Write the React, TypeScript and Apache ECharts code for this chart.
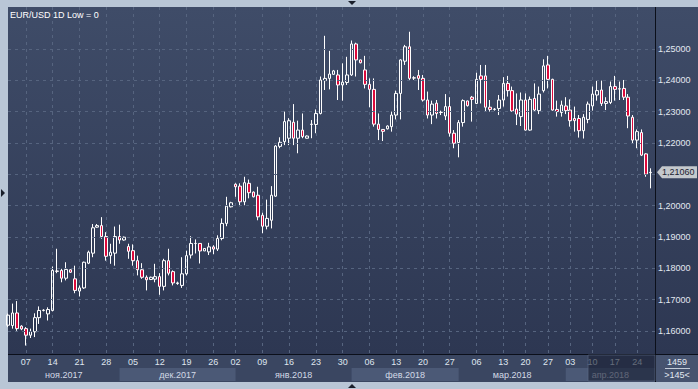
import React, { useEffect, useRef } from 'react';
import * as echarts from 'echarts';

// ---- categories (trading days, incl. Sunday sessions) ----
const monthDays: [string, number[]][] = [
  ['2017-11', [2, 3, 5, 6, 7, 8, 9, 10, 12, 13, 14, 15, 16, 17, 19, 20, 21, 22, 23, 24, 26, 27, 28, 29, 30]],
  ['2017-12', [1, 3, 4, 5, 6, 7, 8, 10, 11, 12, 13, 14, 15, 17, 18, 19, 20, 21, 22, 24, 25, 26, 27, 28, 29, 31]],
  ['2018-01', [2, 3, 4, 5, 7, 8, 9, 10, 11, 12, 14, 15, 16, 17, 18, 19, 21, 22, 23, 24, 25, 26, 28, 29, 30, 31]],
  ['2018-02', [1, 2, 4, 5, 6, 7, 8, 9, 11, 12, 13, 14, 15, 16, 18, 19, 20, 21, 22, 23, 25, 26, 27, 28]],
  ['2018-03', [1, 2, 4, 5, 6, 7, 8, 9, 11, 12, 13, 14, 15, 16, 19, 20, 21, 22, 23, 26, 27, 28, 29, 30]],
  ['2018-04', [2, 3, 4, 5, 6, 9, 10, 11, 12, 13, 16, 17, 18, 19, 20, 23, 24, 25, 26, 27]],
];
const dates: string[] = monthDays.flatMap(([m, ds]) => ds.map((d) => `${m}-${String(d).padStart(2, '0')}`));

const weekLabelDates = [
  '2017-11-07', '2017-11-14', '2017-11-21', '2017-11-28', '2017-12-05', '2017-12-12', '2017-12-19', '2017-12-26',
  '2018-01-02', '2018-01-09', '2018-01-16', '2018-01-23', '2018-01-30', '2018-02-06', '2018-02-13', '2018-02-20',
  '2018-02-27', '2018-03-06', '2018-03-13', '2018-03-20', '2018-03-27', '2018-04-03', '2018-04-10', '2018-04-17',
  '2018-04-24',
];
const monthKeys = ['2017-11', '2017-12', '2018-01', '2018-02', '2018-03', '2018-04'];
const monthNames = ['ноя.2017', 'дек.2017', 'янв.2018', 'фев.2018', 'мар.2018', 'апр.2018'];
const yTicks = [1.16, 1.17, 1.18, 1.19, 1.2, 1.21, 1.22, 1.23, 1.24, 1.25];

// ---- OHLC ----
const opens = [
  1.1618, 1.1617, 1.1657, 1.1615, 1.1607, 1.1586, 1.1597, 1.1642, 1.1665, 1.1654,
  1.1665, 1.1791, 1.1793, 1.1768, 1.1795, 1.1766, 1.1727, 1.1737, 1.1816, 1.1848,
  1.1931, 1.1936, 1.1901, 1.1840, 1.1848, 1.1901, 1.1890, 1.1869, 1.1856, 1.1824,
  1.1795, 1.1771, 1.1764, 1.1765, 1.1773, 1.1742, 1.1824, 1.1789, 1.1751, 1.1745,
  1.1782, 1.1842, 1.1879, 1.1879, 1.1855, 1.1852, 1.1868, 1.1861, 1.1895, 1.1943,
  1.1996, 1.2068, 1.2062, 1.2012, 1.2071, 1.2043, 1.2033, 1.1969, 1.1934, 1.1953,
  1.2030, 1.2189, 1.2204, 1.2215, 1.2266, 1.2215, 1.2241, 1.2215, 1.2259, 1.2259,
  1.2294, 1.2399, 1.2406, 1.2419, 1.2417, 1.2385, 1.2393, 1.2417, 1.2516, 1.2465,
  1.2433, 1.2387, 1.2371, 1.2260, 1.2243, 1.2245, 1.2252, 1.2289, 1.2358, 1.2461,
  1.2507, 1.2407, 1.2415, 1.2406, 1.2337, 1.2289, 1.2327, 1.2297, 1.2286, 1.2316,
  1.2231, 1.2201, 1.2265, 1.2334, 1.2346, 1.2326, 1.2414, 1.2414, 1.2314, 1.2307,
  1.2310, 1.2337, 1.2390, 1.2367, 1.2308, 1.2284, 1.2337, 1.2241, 1.2342, 1.2303,
  1.2367, 1.2449, 1.2403, 1.2307, 1.2297, 1.2318, 1.2305, 1.2278, 1.2278, 1.2239,
  1.2275, 1.2318, 1.2353, 1.2369, 1.2326, 1.2329, 1.2380, 1.2373, 1.2374, 1.2346,
  1.2282, 1.2209, 1.2233, 1.2165, 1.2105,
];
const closes = [
  1.1650, 1.1657, 1.1607, 1.1606, 1.1586, 1.1598, 1.1642, 1.1665, 1.1666, 1.1668,
  1.1793, 1.1790, 1.1768, 1.1796, 1.1787, 1.1729, 1.1737, 1.1819, 1.1851, 1.1929,
  1.1936, 1.1901, 1.1838, 1.1851, 1.1901, 1.1890, 1.1899, 1.1854, 1.1824, 1.1795,
  1.1771, 1.1763, 1.1771, 1.1773, 1.1742, 1.1824, 1.1784, 1.1753, 1.1753, 1.1782,
  1.1840, 1.1879, 1.1879, 1.1855, 1.1863, 1.1868, 1.1861, 1.1895, 1.1943, 1.1998,
  1.2009, 1.2060, 1.2012, 1.2073, 1.2041, 1.2028, 1.1964, 1.1934, 1.1959, 1.2033,
  1.2190, 1.2202, 1.2268, 1.2271, 1.2215, 1.2241, 1.2220, 1.2222, 1.2260, 1.2294,
  1.2401, 1.2406, 1.2420, 1.2430, 1.2385, 1.2394, 1.2417, 1.2516, 1.2465, 1.2456,
  1.2387, 1.2371, 1.2260, 1.2243, 1.2237, 1.2254, 1.2289, 1.2358, 1.2465, 1.2507,
  1.2406, 1.2408, 1.2406, 1.2337, 1.2289, 1.2324, 1.2294, 1.2298, 1.2316, 1.2231,
  1.2199, 1.2265, 1.2335, 1.2319, 1.2339, 1.2403, 1.2403, 1.2314, 1.2307, 1.2308,
  1.2337, 1.2390, 1.2367, 1.2302, 1.2292, 1.2337, 1.2241, 1.2339, 1.2305, 1.2356,
  1.2446, 1.2403, 1.2305, 1.2300, 1.2321, 1.2303, 1.2271, 1.2271, 1.2239, 1.2282,
  1.2324, 1.2356, 1.2367, 1.2326, 1.2332, 1.2380, 1.2371, 1.2372, 1.2346, 1.2286,
  1.2209, 1.2236, 1.2161, 1.2100, 1.2106,
];
const lows = [
  1.1612, 1.1607, 1.1600, 1.1602, 1.1553, 1.1577, 1.1580, 1.1622, 1.1662, 1.1633,
  1.1662, 1.1784, 1.1755, 1.1761, 1.1785, 1.1720, 1.1710, 1.1734, 1.1813, 1.1835,
  1.1929, 1.1894, 1.1824, 1.1814, 1.1808, 1.1878, 1.1888, 1.1830, 1.1808, 1.1777,
  1.1766, 1.1729, 1.1762, 1.1755, 1.1715, 1.1729, 1.1777, 1.1745, 1.1747, 1.1737,
  1.1777, 1.1831, 1.1847, 1.1815, 1.1855, 1.1842, 1.1845, 1.1855, 1.1889, 1.1934,
  1.1994, 1.2028, 1.1998, 1.2001, 1.2023, 1.2026, 1.1953, 1.1912, 1.1924, 1.1927,
  1.2028, 1.2183, 1.2193, 1.2193, 1.2193, 1.2167, 1.2215, 1.2214, 1.2215, 1.2231,
  1.2291, 1.2369, 1.2371, 1.2418, 1.2337, 1.2335, 1.2385, 1.2414, 1.2412, 1.2454,
  1.2374, 1.2314, 1.2252, 1.2209, 1.2206, 1.2243, 1.2236, 1.2275, 1.2275, 1.2449,
  1.2401, 1.2401, 1.2369, 1.2332, 1.2278, 1.2260, 1.2278, 1.2289, 1.2273, 1.2220,
  1.2183, 1.2154, 1.2252, 1.2316, 1.2268, 1.2324, 1.2326, 1.2300, 1.2300, 1.2303,
  1.2289, 1.2316, 1.2348, 1.2300, 1.2257, 1.2254, 1.2239, 1.2239, 1.2300, 1.2292,
  1.2361, 1.2374, 1.2303, 1.2284, 1.2284, 1.2292, 1.2252, 1.2236, 1.2217, 1.2214,
  1.2263, 1.2303, 1.2335, 1.2318, 1.2305, 1.2324, 1.2335, 1.2337, 1.2337, 1.2247,
  1.2197, 1.2183, 1.2158, 1.2092, 1.2055,
];
const highs = [
  1.1655, 1.1687, 1.1695, 1.1618, 1.1612, 1.1607, 1.1656, 1.1678, 1.1669, 1.1675,
  1.1805, 1.1862, 1.1798, 1.1819, 1.1797, 1.1808, 1.1745, 1.1821, 1.1856, 1.1941,
  1.1941, 1.1963, 1.1915, 1.1878, 1.1933, 1.1939, 1.1901, 1.1878, 1.1876, 1.1840,
  1.1816, 1.1777, 1.1773, 1.1814, 1.1784, 1.1830, 1.1862, 1.1793, 1.1757, 1.1835,
  1.1856, 1.1902, 1.1892, 1.1879, 1.1863, 1.1881, 1.1873, 1.1905, 1.1959, 1.2028,
  1.2012, 1.2071, 1.2071, 1.2092, 1.2083, 1.2045, 1.2060, 1.1977, 1.2019, 1.2062,
  1.2193, 1.2218, 1.2300, 1.2279, 1.2324, 1.2271, 1.2294, 1.2224, 1.2273, 1.2307,
  1.2412, 1.2542, 1.2494, 1.2433, 1.2433, 1.2454, 1.2475, 1.2527, 1.2520, 1.2466,
  1.2478, 1.2406, 1.2406, 1.2294, 1.2244, 1.2256, 1.2300, 1.2367, 1.2467, 1.2513,
  1.2555, 1.2413, 1.2433, 1.2417, 1.2364, 1.2335, 1.2337, 1.2303, 1.2356, 1.2346,
  1.2241, 1.2273, 1.2339, 1.2335, 1.2350, 1.2424, 1.2449, 1.2449, 1.2337, 1.2311,
  1.2353, 1.2410, 1.2414, 1.2380, 1.2358, 1.2361, 1.2358, 1.2348, 1.2390, 1.2380,
  1.2467, 1.2478, 1.2405, 1.2335, 1.2335, 1.2346, 1.2339, 1.2316, 1.2289, 1.2292,
  1.2332, 1.2380, 1.2398, 1.2399, 1.2346, 1.2396, 1.2414, 1.2396, 1.2401, 1.2356,
  1.2289, 1.2243, 1.2243, 1.2167, 1.2119,
];

const FONT = "'Liberation Sans', Arial, sans-serif";

export default function App() {
  const ref = useRef<HTMLDivElement>(null);
  useEffect(() => {
    const el = ref.current!;
    const chart = echarts.init(el, undefined, { renderer: 'svg' });
    const W = 698, H = 389;
    const L = 8, R = 655, T = 7, B = 354;
    const yMin = 1.1526, yMax = 1.2634;
    const last = closes[closes.length - 1];
    const fmt = (v: number) => v.toFixed(5).replace('.', ',');
    // the price tag covers the tick label next to it
    const isTick = (v: number) =>
      yTicks.some((t) => Math.abs(t - v) < 1e-6) && Math.abs(v - last) > 0.003;
    const labelSet = new Set(weekLabelDates);
    const cats = [...dates, ''];
    const ohlc = dates.map((_, i) => [opens[i], closes[i], lows[i], highs[i]]);

    chart.setOption({
      animation: false,
      backgroundColor: 'transparent',
      grid: { left: L, right: W - R, top: T, bottom: H - B, containLabel: false },
      xAxis: {
        type: 'category',
        data: cats,
        boundaryGap: false,
        axisLine: { show: false },
        axisTick: { show: false },
        axisLabel: {
          interval: (_i: number, v: string) => labelSet.has(v),
          formatter: (v: string) => v.slice(8),
          color: '#dfe5ee',
          fontSize: 9,
          fontFamily: FONT,
          margin: 3,
        },
        splitLine: {
          show: true,
          interval: (_i: number, v: string) => labelSet.has(v),
          lineStyle: { color: '#56647f', width: 1, type: [3, 4] },
        },
      },
      yAxis: {
        type: 'value',
        position: 'right',
        min: yMin,
        max: yMax,
        splitNumber: 10,
        minInterval: 0.01,
        maxInterval: 0.01,
        axisLine: { show: false },
        axisTick: { show: false },
        splitLine: { show: false },
        axisLabel: {
          formatter: (v: number) => (isTick(v) ? fmt(v) : ''),
          color: '#e2e8f1',
          fontSize: 9,
          fontFamily: FONT,
          margin: 3,
          showMinLabel: false,
          showMaxLabel: false,
        },
      },
      series: [
        {
          type: 'line',
          data: [],
          z: 1,
          silent: true,
          markLine: {
            silent: true,
            symbol: 'none',
            label: { show: false },
            lineStyle: { color: '#56647f', width: 1, type: [3, 4] },
            data: yTicks.map((v) => ({ yAxis: v })),
          },
        },
        {
          type: 'candlestick',
          data: ohlc,
          z: 2,
          barWidth: 3,
          itemStyle: {
            color: 'rgba(0,0,0,0)',
            color0: '#dc0a3c',
            borderColor: '#ffffff',
            borderColor0: '#ffffff',
            borderColorDoji: '#ffffff',
            borderWidth: 1,
          },
        },
      ],
    });

    const px = (i: number) => chart.convertToPixel({ xAxisIndex: 0 }, i) as number;
    const starts = monthKeys.map((k) => dates.findIndex((d) => d.startsWith(k)));
    const graphics: any[] = [];
    graphics.push({ type: 'rect', z: -100, shape: { x: 0, y: 0, width: W, height: H }, style: { fill: '#b9c6d6' } });
    graphics.push({
      type: 'rect', z: -99, shape: { x: L, y: T, width: W - L, height: B - T },
      style: {
        fill: new echarts.graphic.LinearGradient(0, 0, 0, 1, [
          { offset: 0, color: '#3f4c68' },
          { offset: 1, color: '#2d3752' },
        ]),
      },
    });
    graphics.push({ type: 'rect', z: -99, shape: { x: L, y: B, width: W - L, height: 382 - B }, style: { fill: '#3a4661' } });
    monthNames.forEach((name, m) => {
      const x0 = m === 0 ? L : px(starts[m]);
      const x1 = m + 1 < starts.length ? px(starts[m + 1]) : R;
      if (m % 2 === 1) {
        graphics.push({ type: 'rect', z: -98, shape: { x: x0, y: 368, width: x1 - x0, height: 13 }, style: { fill: '#4b5976' } });
      }
      graphics.push({
        type: 'text', z: 20, x: (x0 + x1) / 2, y: 375,
        style: { text: name, fill: '#d3dae6', font: `9px ${FONT}`, align: 'center', verticalAlign: 'middle' },
      });
    });
    // right bottom box
    graphics.push({ type: 'rect', z: -98, shape: { x: R, y: B, width: W - R, height: 382 - B }, style: { fill: '#46536f' } });
    graphics.push({ type: 'text', z: 20, x: 677, y: 362, style: { text: '1459', fill: '#e2e8f1', font: `9px ${FONT}`, align: 'center', verticalAlign: 'middle' } });
    graphics.push({ type: 'line', z: 20, shape: { x1: 665, y1: 368.5, x2: 690, y2: 368.5 }, style: { stroke: '#c3cbd8', lineWidth: 1 } });
    graphics.push({ type: 'text', z: 20, x: 677, y: 375, style: { text: '>145<', fill: '#e2e8f1', font: `9px ${FONT}`, align: 'center', verticalAlign: 'middle' } });
    // dark overlay over the latest weeks in the label area
    const ox = px(dates.indexOf('2018-04-09'));
    graphics.push({
      type: 'rect', z: 50, shape: { x: ox, y: B + 1, width: R - ox, height: 381 - B - 1 },
      style: { fill: 'rgba(24,31,50,0.62)', stroke: 'rgba(95,108,135,0.6)', lineWidth: 1 },
    });
    // frame lines
    graphics.push({ type: 'line', z: 40, shape: { x1: L, y1: B + 0.5, x2: W, y2: B + 0.5 }, style: { stroke: '#0b0f1a', lineWidth: 1 } });
    graphics.push({ type: 'line', z: 40, shape: { x1: R + 0.5, y1: T, x2: R + 0.5, y2: 382 }, style: { stroke: '#0b0f1a', lineWidth: 1 } });
    // price tag
    const py = chart.convertToPixel({ yAxisIndex: 0 }, last) as number;
    graphics.push({
      type: 'polygon', z: 60,
      shape: { points: [[657, py], [662, py - 6], [697, py - 6], [697, py + 6], [662, py + 6]] },
      style: { fill: '#c4c8cd' },
    });
    graphics.push({ type: 'text', z: 61, x: 662, y: py, style: { text: fmt(last), fill: '#1c2231', font: `9px ${FONT}`, verticalAlign: 'middle' } });
    // title
    graphics.push({ type: 'text', z: 60, x: 10, y: 15, style: { text: 'EUR/USD 1D Low = 0', fill: '#ffffff', font: `9px ${FONT}`, verticalAlign: 'middle' } });
    // scroll triangles
    graphics.push({ type: 'polygon', z: 60, shape: { points: [[348, 1], [356, 1], [352, 5]] }, style: { fill: '#1a1f2b' } });
    graphics.push({ type: 'polygon', z: 60, shape: { points: [[348, 388], [356, 388], [352, 384]] }, style: { fill: '#1a1f2b' } });
    graphics.push({ type: 'polygon', z: 60, shape: { points: [[1, 189], [1, 197], [5, 193]] }, style: { fill: '#1a1f2b' } });

    chart.setOption({ graphic: graphics });
    return () => chart.dispose();
  }, []);
  return <div ref={ref} style={{ position: 'absolute', left: 0, top: 0, width: 698, height: 389 }} />;
}
